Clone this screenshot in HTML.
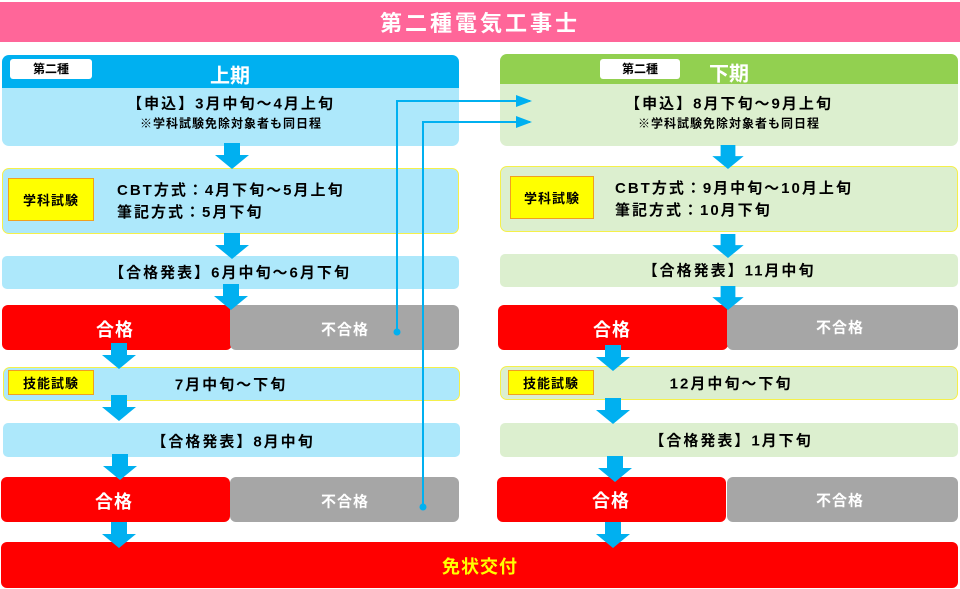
<!DOCTYPE html>
<html><head><meta charset="utf-8"><style>
*{margin:0;padding:0;box-sizing:border-box}
body{width:960px;height:589px;position:relative;background:#fff;font-family:"Liberation Sans","Noto Sans CJK JP",sans-serif;font-weight:bold;overflow:hidden}
.a{position:absolute}
.t{position:absolute;white-space:nowrap;transform:translate(-50%,-50%)}
.lb{background:#ade8fb}
.lg{background:#dcefcf}
.yb{border:1.5px solid #f5f04a;border-radius:7px}
.ylab{position:absolute;background:#ffff00;border:1px solid #f0a020;font-size:13px;display:flex;align-items:center;justify-content:center;letter-spacing:1px}
.red{background:#ff0000;border-radius:6px}
.gray{background:#a6a6a6;border-radius:6px}
.w{color:#fff;font-size:18px;letter-spacing:1px}
.wg{color:#fff;font-size:15px;letter-spacing:1px}
.k{font-size:15px;color:#000;letter-spacing:2px}
</style></head><body>
<div class="a" style="left:0;top:2px;width:960px;height:40px;background:#ff6699"></div>
<div class="t" style="left:480px;top:22px;color:#fff;font-size:22px;letter-spacing:3px">第二種電気工事士</div>

<!-- LEFT -->
<div class="a" style="left:2px;top:55px;width:457px;height:34px;background:#00b0f0;border-radius:7px 7px 0 0"></div>
<div class="a" style="left:10px;top:59px;width:82px;height:20px;background:#fff;border-radius:3px;font-size:12px;text-align:center;line-height:20px">第二種</div>
<div class="t" style="left:230px;top:74px;color:#fff;font-size:20px">上期</div>
<div class="a lb" style="left:2px;top:88px;width:457px;height:58px;border-radius:0 0 7px 7px"></div>
<div class="t k" style="left:231px;top:103px">【申込】3月中旬～4月上旬</div>
<div class="t" style="left:231px;top:123px;font-size:12px;letter-spacing:1px">※学科試験免除対象者も同日程</div>
<div class="a lb yb" style="left:2px;top:168px;width:457px;height:66px"></div>
<div class="ylab" style="left:8px;top:178px;width:86px;height:43px">学科試験</div>
<div class="a k" style="left:117px;top:180px;line-height:22px">CBT方式：4月下旬～5月上旬<br>筆記方式：5月下旬</div>
<div class="a lb" style="left:2px;top:256px;width:457px;height:33px;border-radius:5px"></div>
<div class="t k" style="left:230px;top:272px">【合格発表】6月中旬～6月下旬</div>
<div class="a red" style="left:2px;top:305px;width:230px;height:45px"></div>
<div class="a gray" style="left:230px;top:305px;width:229px;height:45px"></div>
<div class="t w" style="left:115px;top:329px">合格</div>
<div class="t wg" style="left:345px;top:329px">不合格</div>
<div class="a lb yb" style="left:3px;top:367px;width:457px;height:34px"></div>
<div class="ylab" style="left:8px;top:370px;width:86px;height:25px">技能試験</div>
<div class="t k" style="left:231px;top:384px">7月中旬～下旬</div>
<div class="a lb" style="left:3px;top:423px;width:457px;height:34px;border-radius:5px"></div>
<div class="t k" style="left:233px;top:441px">【合格発表】8月中旬</div>
<div class="a red" style="left:1px;top:477px;width:229px;height:45px"></div>
<div class="a gray" style="left:230px;top:477px;width:229px;height:45px"></div>
<div class="t w" style="left:114px;top:501px">合格</div>
<div class="t wg" style="left:345px;top:501px">不合格</div>

<!-- RIGHT -->
<div class="a" style="left:500px;top:54px;width:458px;height:31px;background:#92d050;border-radius:7px 7px 0 0"></div>
<div class="a" style="left:600px;top:59px;width:80px;height:20px;background:#fff;border-radius:3px;font-size:12px;text-align:center;line-height:20px">第二種</div>
<div class="t" style="left:729px;top:72px;color:#fff;font-size:20px">下期</div>
<div class="a lg" style="left:500px;top:84px;width:458px;height:62px;border-radius:0 0 7px 7px"></div>
<div class="t k" style="left:729px;top:103px">【申込】8月下旬～9月上旬</div>
<div class="t" style="left:729px;top:123px;font-size:12px;letter-spacing:1px">※学科試験免除対象者も同日程</div>
<div class="a lg yb" style="left:500px;top:166px;width:458px;height:66px"></div>
<div class="ylab" style="left:510px;top:176px;width:84px;height:43px">学科試験</div>
<div class="a k" style="left:615px;top:178px;line-height:22px">CBT方式：9月中旬～10月上旬<br>筆記方式：10月下旬</div>
<div class="a lg" style="left:500px;top:254px;width:458px;height:33px;border-radius:5px"></div>
<div class="t k" style="left:729px;top:270px">【合格発表】11月中旬</div>
<div class="a red" style="left:498px;top:305px;width:230px;height:45px"></div>
<div class="a gray" style="left:727px;top:305px;width:231px;height:45px"></div>
<div class="t w" style="left:612px;top:329px">合格</div>
<div class="t wg" style="left:840px;top:327px">不合格</div>
<div class="a lg yb" style="left:500px;top:366px;width:458px;height:34px"></div>
<div class="ylab" style="left:508px;top:370px;width:86px;height:25px">技能試験</div>
<div class="t k" style="left:731px;top:383px">12月中旬～下旬</div>
<div class="a lg" style="left:500px;top:423px;width:458px;height:34px;border-radius:5px"></div>
<div class="t k" style="left:731px;top:440px">【合格発表】1月下旬</div>
<div class="a red" style="left:497px;top:477px;width:229px;height:45px"></div>
<div class="a gray" style="left:727px;top:477px;width:231px;height:45px"></div>
<div class="t w" style="left:611px;top:500px">合格</div>
<div class="t wg" style="left:840px;top:500px">不合格</div>

<div class="a red" style="left:1px;top:542px;width:957px;height:46px"></div>
<div class="t" style="left:480px;top:566px;color:#ffff00;font-size:18px;letter-spacing:1px">免状交付</div>

<svg class="a" style="left:0;top:0" width="960" height="589">
<defs>
<symbol id="ar" viewBox="0 0 34 26" overflow="visible"><path d="M9 0H25V12H34L17 26L0 12H9Z" fill="#00b0f0"/></symbol>
<marker id="m" markerWidth="8" markerHeight="6" refX="7" refY="3" orient="auto"><path d="M0 0L8 3L0 6Z" fill="#00b0f0"/></marker>
</defs>
<use href="#ar" x="215" y="143" width="34" height="26"/>
<use href="#ar" x="215" y="233" width="34" height="26"/>
<use href="#ar" x="214" y="284" width="34" height="26"/>
<use href="#ar" x="102" y="343" width="34" height="26"/>
<use href="#ar" x="102" y="395" width="34" height="26"/>
<use href="#ar" x="103" y="454" width="34" height="26"/>
<use href="#ar" x="102" y="522" width="34" height="26"/>
<use href="#ar" x="711" y="145" width="34" height="24"/>
<use href="#ar" x="711" y="234" width="34" height="24"/>
<use href="#ar" x="711" y="286" width="34" height="24"/>
<use href="#ar" x="596" y="345" width="34" height="26"/>
<use href="#ar" x="596" y="398" width="34" height="26"/>
<use href="#ar" x="598" y="456" width="34" height="26"/>
<use href="#ar" x="596" y="522" width="34" height="26"/>
<polyline points="397,332 397,101 530,101" fill="none" stroke="#00b0f0" stroke-width="2" marker-end="url(#m)"/>
<polyline points="423,507 423,122 530,122" fill="none" stroke="#00b0f0" stroke-width="2" marker-end="url(#m)"/>
<circle cx="397" cy="332" r="3.5" fill="#00b0f0"/>
<circle cx="423" cy="507" r="3.5" fill="#00b0f0"/>
</svg>
</body></html>
